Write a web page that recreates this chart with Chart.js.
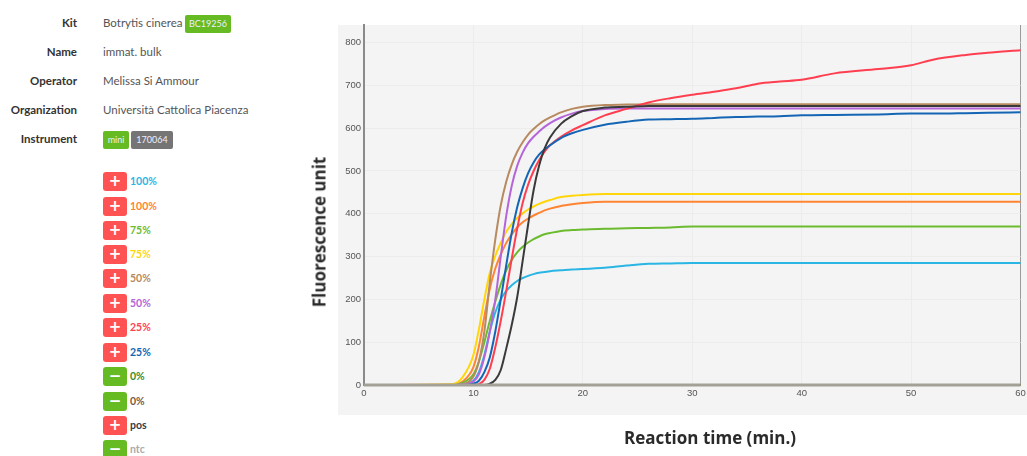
<!DOCTYPE html>
<html>
<head>
<meta charset="utf-8">
<script src="https://cdn.jsdelivr.net/npm/chart.js@4"></script>
<style>
html,body{margin:0;padding:0;background:#fff;overflow:hidden}
body{width:1027px;height:456px;position:relative;font-family:Lato,sans-serif}
.abs{position:absolute;white-space:nowrap}
.key{width:77px;left:0;text-align:right;font-weight:700;font-size:11.5px;color:#333;line-height:16px}
.val{left:103px;font-size:11.5px;color:#555;line-height:16px}
.badge{height:18px;line-height:18px;border-radius:2px;color:#eef;font-size:9px;text-align:center}
.btn{left:103px;width:24px;height:19px;border-radius:3px;color:#fff;font:700 15px/18px "DejaVu Sans",sans-serif;text-align:center}
.lbl{left:130px;font-weight:700;font-size:10.5px;line-height:14px}
.axisT{font:700 17px "Open Sans",sans-serif;color:#2a2a2a}
#bg{left:338px;top:25px;width:689px;height:390px;background:#f4f4f4}
#wrap{left:300px;top:0;width:727px;height:456px}
</style>
</head>
<body>
<div class="abs" id="bg"></div>
<div class="abs" id="wrap"><canvas id="chart" width="727" height="456"></canvas></div>
<div class="abs axisT" style="left:319px;top:232px;transform:translate(-50%,-50%) rotate(-90deg)">Fluorescence unit</div>
<div class="abs axisT" style="left:710px;top:437px;transform:translate(-50%,-50%)">Reaction time (min.)</div>
<div id="info"></div>
<div id="legend"></div>
<script>
const infoKeys=["Kit","Name","Operator","Organization","Instrument"]
const infoVals=["Botrytis cinerea","immat. bulk","Melissa Si Ammour","Università Cattolica Piacenza",""]

const times=[0,8,9,10,10.5,11,11.5,12,12.5,13,13.5,14,14.5,15,15.5,16,16.5,17,18,19,20,22,24,26,28,30,32,34,36,38,40,43,47,50,52,55,57,60]

const lightBlue=[0,0,1,10,30,70,125,170,200,220,233,243,250,255,259,262,264,266,268,270,271,274,279,283,284,285,285,285,285,285,285,285,285,285,285,285,285,285]
const orange=[0,1,8,42,90,160,225,272,305,332,352,368,380,389,396,402,408,412,418,422,425,428,428,428,428,428,428,428,428,428,428,428,428,428,428,428,428,428]
const green=[0,0,5,25,55,100,150,195,235,268,292,310,323,333,341,347,352,355,360,362,363,365,366,367,368,370,370,370,370,370,370,370,370,370,370,370,370,370]
const yellow=[0,2,18,70,130,200,262,302,332,358,376,390,401,410,417,423,428,432,439,442,444,446,446,446,446,446,446,446,446,446,446,446,446,446,446,446,446,446]
const brown=[0,0,2,20,55,125,240,340,420,475,515,545,567,585,598,609,618,625,637,645,650,654,655,656,656,656,656,656,656,656,656,656,656,656,656,656,656,656]
const purple=[0,0,1,8,25,65,125,200,300,395,465,512,543,565,580,592,603,612,625,634,640,645,646,646,646,646,646,646,646,646,646,646,646,646,646,646,646,646]
const red=[0,0,0,0,2,12,38,88,150,220,295,365,425,468,500,525,545,560,580,595,607,630,645,660,670,678,685,693,704,709,713,728,738,747,760,771,776,782]
const darkBlue=[0,0,0,3,10,30,65,125,200,280,355,415,460,495,520,538,550,560,577,588,596,608,615,620,621,622,624,626,627,628,630,631,632,634,634,635,636,637]
const zeroGreen=[0,0,0,0,0,0,0,0,0,0,0,0,0,0,0,0,0,0,0,0,0,0,0,0,0,0,0,0,0,0,0,0,0,0,0,0,0,0]
const zeroBrown=[0,0,0,0,0,0,0,0,0,0,0,0,0,0,0,0,0,0,0,0,0,0,0,0,0,0,0,0,0,0,0,0,0,0,0,0,0,0]
const pos=[0,0,0,0,0,0,3,12,35,85,140,205,290,375,455,512,552,578,610,628,640,648,650,652,652,652,652,652,652,652,652,652,652,652,652,652,652,652]
const ntc=[0,0,0,0,0,0,0,0,0,0,0,0,0,0,0,0,0,0,0,0,0,0,0,0,0,0,0,0,0,0,0,0,0,0,0,0,0,0]

const seriesNames=["100%","100%","75%","75%","50%","50%","25%","25%","0%","0%","pos","ntc"]
const seriesValues=[lightBlue,orange,green,yellow,brown,purple,red,darkBlue,zeroGreen,zeroBrown,pos,ntc]
const seriesColors=["#29b6e4","#ff8433","#6cbb2f","#ffd60a","#b88a60","#b565d8","#ff3f50","#1565b5","#3d8b2a","#7a5a44","#3a3a3a","#a3a095"]
const labelColors=["#29b6e4","#ff8433","#6cbb2f","#ffd60a","#b88a60","#b565d8","#ff3f50","#1565b5","#3d8b2a","#7a5a44","#333b4a","#aaaaaa"]
const signs=["+","+","+","+","+","+","+","+","−","−","+","−"]

const yTicks=[0,100,200,300,400,500,600,700,800]
const xTicks=[0,10,20,30,40,50,60]


/* LEFT PANEL */

function addDiv(parent,cls,style,text){
const d=document.createElement("div")
d.className="abs "+cls
d.style.cssText=style
d.textContent=text
parent.appendChild(d)
}

const info=document.getElementById("info")
const rowY=[15,44,73,102,131]

infoKeys.forEach((k,i)=>{
addDiv(info,"key",`top:${rowY[i]}px`,k)
addDiv(info,"val",`top:${rowY[i]}px`,infoVals[i])
})

addDiv(info,"badge","left:185px;top:15px;width:46px;background:#66bb22","BC19256")
addDiv(info,"badge","left:103px;top:131px;width:26px;background:#66bb22","mini")
addDiv(info,"badge","left:131px;top:131px;width:42px;background:#757575","170064")

const legend=document.getElementById("legend")
const legendY=[172,197,221,245,269,294,318,343,367,392,416,440]

seriesNames.forEach((n,i)=>{
const bg=signs[i]==="+"?"#ff5252":"#66bb22"
addDiv(legend,"btn",`top:${legendY[i]}px;background:${bg}`,signs[i])
addDiv(legend,"lbl",`top:${legendY[i]+2}px;color:${labelColors[i]}`,n)
})


/* CHART */

// first dataset is painted last, so reverse to keep the later series on top
const datasets=seriesNames.map((n,i)=>({
label:n,
data:times.map((t,j)=>({x:t,y:seriesValues[i][j]})),
borderColor:seriesColors[i],
borderWidth:seriesValues[i]===ntc?3:2,
clip:4,
pointRadius:0,
cubicInterpolationMode:"monotone"
})).reverse()

new Chart(document.getElementById("chart").getContext("2d"),{
type:"line",
data:{datasets:datasets},
options:{
responsive:false,
animation:false,
layout:{padding:{top:25,right:6.5,left:0,bottom:0}},
plugins:{legend:{display:false},tooltip:{enabled:false}},
scales:{
x:{
type:"linear",
min:0,
max:60,
afterBuildTicks:s=>{s.ticks=xTicks.map(v=>({value:v}))},
afterFit:s=>{s.height=71;s.paddingRight=0;s.paddingLeft=0},
grid:{
color:c=>c.tick.value===60?"#9a9a9a":"#ececec",
drawTicks:false,
},
border:{display:false},
ticks:{maxRotation:0,padding:3,color:"#555",font:{family:"Liberation Sans",size:9.5}}
},
y:{
min:0,
max:841,
afterBuildTicks:s=>{s.ticks=yTicks.map(v=>({value:v}))},
afterFit:s=>{s.width=64;s.paddingTop=0;s.paddingBottom=0},
grid:{color:"#ececec",drawTicks:false},
border:{color:"#8a8a8a",width:2},
ticks:{padding:3,color:"#555",font:{family:"Liberation Sans",size:9.5}}
}
}
}
})
</script>
</body>
</html>
